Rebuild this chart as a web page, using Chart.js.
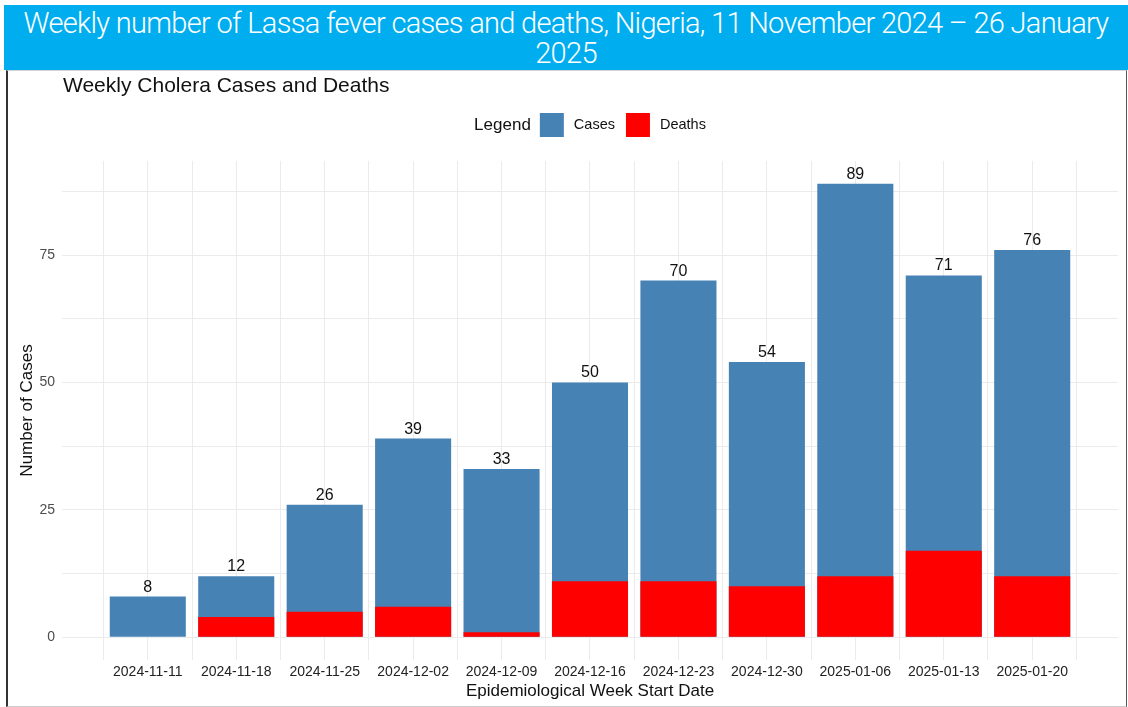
<!DOCTYPE html>
<html>
<head>
<meta charset="utf-8">
<script src="https://cdn.jsdelivr.net/npm/chart.js@4.4.1/dist/chart.umd.min.js"></script>
<style>
  body { margin:0; background:#fff; width:1128px; height:707px; overflow:hidden; position:relative; font-family:"Liberation Sans", Arial, sans-serif; }
  #cabecera { position:absolute; left:4px; top:5px; width:1124px; height:65px; box-sizing:border-box; padding-top:3px;
    background:#00aeef; color:#fff; text-align:center; font-family:Roboto, sans-serif; font-weight:300; font-size:29px;
    line-height:30px; letter-spacing:-0.7px; white-space:nowrap; }
  #panel { position:absolute; left:6px; top:70px; width:1121px; height:637px; box-sizing:border-box;
    border-left:2px solid #333; border-right:1px solid #555; border-top:1px solid #d4d4d4; border-bottom:1px solid #ccc; }
  #myChart { position:absolute; left:0; top:0; }
</style>
</head>
<body>
<div id="cabecera">Weekly number of Lassa fever cases and deaths, Nigeria, 11 November 2024 – 26 January<br>2025</div>
<div id="panel"><canvas id="myChart" width="1118" height="635"></canvas></div>
<script>
var semanas = ['2024-11-11', '2024-11-18', '2024-11-25', '2024-12-02', '2024-12-09', '2024-12-16',
               '2024-12-23', '2024-12-30', '2025-01-06', '2025-01-13', '2025-01-20'];
var casos = [8, 12, 26, 39, 33, 50, 70, 54, 89, 71, 76];
var muertes = [0, 4, 5, 6, 1, 11, 11, 10, 12, 17, 12];
var ticksY = [0, 25, 50, 75];

var fuente = '"Liberation Sans", Arial, sans-serif';
var maxY = Math.max.apply(null, casos);
var margenY = maxY * 0.05;
var margenX = 0.97;

function puntos(valores) {
  return valores.map(function (v, i) { return { x: i, y: v }; });
}

var chartdata = {
  datasets: [{
    label: 'Cases',
    backgroundColor: '#4682b4',
    data: puntos(casos),
    order: 1
  }, {
    label: 'Deaths',
    backgroundColor: '#ff0000',
    data: puntos(muertes),
    order: 0   // deaths drawn over the cases bar
  }]
};

// numbers over each cases bar
var rotulos = {
  id: 'rotulos',
  afterDatasetsDraw: function (chart) {
    var ctx = chart.ctx;
    var meta = chart.getDatasetMeta(0);
    ctx.save();
    ctx.font = '16px ' + fuente;
    ctx.fillStyle = '#111';
    ctx.textAlign = 'center';
    ctx.textBaseline = 'alphabetic';
    meta.data.forEach(function (barra, i) {
      ctx.fillText(casos[i], barra.x, barra.y - 5);
    });
    ctx.restore();
  }
};

// title + "Legend" row, centred on the plot like ggplot does
var encabezado = {
  id: 'encabezado',
  afterDraw: function (chart) {
    var ctx = chart.ctx;
    var area = chart.chartArea;
    ctx.save();
    ctx.fillStyle = '#111';
    ctx.textBaseline = 'middle';
    ctx.textAlign = 'left';
    ctx.font = '21px ' + fuente;
    ctx.fillText('Weekly Cholera Cases and Deaths', area.left + 1, 15);

    var fTitulo = '17px ' + fuente;
    var fItem = '14.5px ' + fuente;
    var caja = 24;
    ctx.font = fTitulo;
    var wTitulo = ctx.measureText('Legend').width;
    ctx.font = fItem;
    var items = chart.data.datasets.map(function (d) {
      return { texto: d.label, color: d.backgroundColor, w: ctx.measureText(d.label).width };
    });
    var total = wTitulo;
    items.forEach(function (it, i) { total += (i == 0 ? 9 : 11) + caja + 10 + it.w; });

    var x = (area.left + area.right) / 2 - total / 2;
    var yc = 54;
    ctx.font = fTitulo;
    ctx.fillText('Legend', x, yc);
    x += wTitulo;
    ctx.font = fItem;
    items.forEach(function (it, i) {
      x += (i == 0 ? 9 : 11);
      ctx.fillStyle = it.color;
      ctx.fillRect(x, yc - caja / 2, caja, caja);
      x += caja + 10;
      ctx.fillStyle = '#111';
      ctx.fillText(it.texto, x, yc);
      x += it.w;
    });
    ctx.restore();
  }
};

var graficar = document.getElementById('myChart');
var grafico = new Chart(graficar, {
  type: 'bar',
  data: chartdata,
  plugins: [rotulos, encabezado],
  options: {
    responsive: false,
    animation: false,
    layout: { padding: { left: 0, right: 8, top: 90, bottom: 0 } },
    datasets: {
      // the bar ruler also sees the half-step grid ticks, so the ratio is against half a week
      bar: { grouped: false, barPercentage: 1.72, categoryPercentage: 1, borderWidth: 0 }
    },
    plugins: {
      legend: { display: false },
      title: { display: false }
    },
    scales: {
      x: {
        type: 'linear',
        offset: false,
        min: -margenX,
        max: semanas.length - 1 + margenX,
        afterBuildTicks: function (scale) {
          var t = [];
          for (var v = -0.5; v <= semanas.length - 0.5; v += 0.5) t.push({ value: v });
          scale.ticks = t;
        },
        afterFit: function (scale) { scale.height = 46; },
        grid: { color: '#ebebeb', lineWidth: 1, drawTicks: false, offset: false },
        border: { display: false },
        ticks: {
          autoSkip: false, maxRotation: 0, minRotation: 0, padding: 4,
          color: '#222', font: { family: fuente, size: 14 },
          callback: function (value) { return Number.isInteger(value) ? semanas[value] : ''; }
        },
        title: {
          display: true, text: 'Epidemiological Week Start Date', color: '#111',
          font: { family: fuente, size: 17 }, padding: { top: 0, bottom: 4 }
        }
      },
      y: {
        min: -margenY,
        max: maxY + margenY,
        afterBuildTicks: function (scale) {
          var paso = ticksY[1] - ticksY[0];
          var t = [];
          ticksY.forEach(function (v) { t.push({ value: v }); t.push({ value: v + paso / 2 }); });
          scale.ticks = t;
        },
        afterFit: function (scale) { scale.width = 54; },
        grid: { color: '#ebebeb', lineWidth: 1, drawTicks: false },
        border: { display: false },
        ticks: {
          padding: 7, color: '#4d4d4d', font: { family: fuente, size: 14 },
          callback: function (value) { return ticksY.indexOf(value) >= 0 ? value : ''; }
        },
        title: {
          display: true, text: 'Number of Cases', color: '#111',
          font: { family: fuente, size: 17 }, padding: { top: 9, bottom: 0 }
        }
      }
    }
  }
});
</script>
</body>
</html>
